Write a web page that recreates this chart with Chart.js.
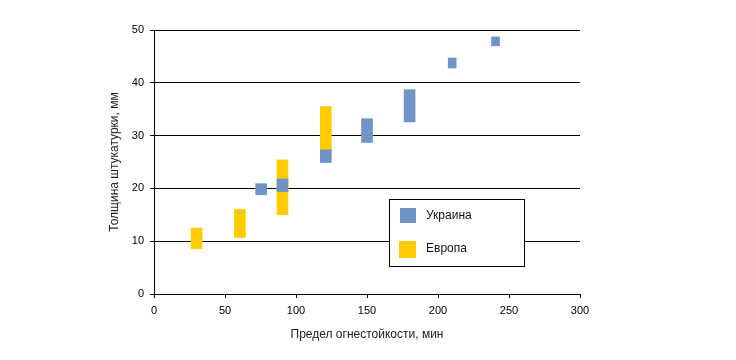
<!DOCTYPE html>
<html>
<head>
<meta charset="utf-8">
<style>
  html, body { margin: 0; padding: 0; background: #ffffff; }
  #wrap { width: 736px; height: 360px; }
</style>
<script src="https://cdn.jsdelivr.net/npm/chart.js@4.4.1/dist/chart.umd.min.js"></script>
</head>
<body>
<div id="wrap"><canvas id="c" width="736" height="360"></canvas></div>
<script>
// Data
const seriesNames = ["Украина", "Европа"];
const ukraineMinutes = [75.5, 90.5, 121, 150, 180, 210, 240.5];
const ukraineLow  = [18.8, 19.4, 24.9, 28.7, 32.6, 42.8, 47.0];
const ukraineHigh = [20.9, 21.8, 27.3, 33.2, 38.7, 44.7, 48.7];
const europeMinutes = [30, 60.5, 90.5, 121];
const europeLow  = [8.6, 10.7, 15.0, 27.0];
const europeHigh = [12.5, 16.0, 25.4, 35.5];
const xTicks = [0, 50, 100, 150, 200, 250, 300];
const yTicks = [0, 10, 20, 30, 40, 50];
const xTitle = "Предел огнестойкости, мин";
const yTitle = "Толщина штукатурки, мм";

const BLUE = "#7094C6";
const YELLOW = "#FFCC00";
const FONT = "'Liberation Sans', Arial, sans-serif";

function ranges(xs, lo, hi) {
  return xs.map((x, i) => ({ x: x, y: [lo[i], hi[i]] }));
}
const ukrAll = ranges(ukraineMinutes, ukraineLow, ukraineHigh);
const ukrWide = ukrAll.filter(p => p.x < 200);
const ukrNarrow = ukrAll.filter(p => p.x >= 200);

const insideLegend = {
  id: 'insideLegend',
  afterDraw(chart) {
    const ctx = chart.ctx;
    const a = chart.chartArea;
    const L = a.left + 235, T = a.top + 169, W = 135, H = 67;
    ctx.save();
    ctx.fillStyle = "#ffffff";
    ctx.fillRect(L, T, W, H);
    ctx.strokeStyle = "#000000";
    ctx.lineWidth = 1;
    ctx.strokeRect(L + 0.5, T + 0.5, W, H);
    const items = [
      { name: seriesNames[0], color: BLUE, sy: T + 9, sh: 15, sx: L + 11, sw: 16, ty: T + 17 },
      { name: seriesNames[1], color: YELLOW, sy: T + 42, sh: 17, sx: L + 10, sw: 17, ty: T + 50 }
    ];
    ctx.font = "12px " + FONT;
    ctx.textBaseline = "middle";
    ctx.textAlign = "left";
    items.forEach(it => {
      ctx.fillStyle = it.color;
      ctx.fillRect(it.sx, it.sy, it.sw, it.sh);
      ctx.fillStyle = "#111111";
      ctx.fillText(it.name, L + 37, it.ty);
    });
    ctx.restore();
  }
};

const bgPlugin = {
  id: 'bg',
  beforeDraw(chart) {
    const ctx = chart.ctx;
    ctx.save();
    ctx.fillStyle = "#ffffff";
    ctx.fillRect(0, 0, chart.width, chart.height);
    ctx.restore();
  }
};

new Chart(document.getElementById('c'), {
  type: 'bar',
  data: {
    datasets: [
      { label: seriesNames[0], data: ukrWide, backgroundColor: BLUE, barThickness: 11, borderWidth: 0 },
      { label: seriesNames[0], data: ukrNarrow, backgroundColor: BLUE, barThickness: 8, borderWidth: 0 },
      { label: seriesNames[1], data: ranges(europeMinutes, europeLow, europeHigh), backgroundColor: YELLOW, barThickness: 11, borderWidth: 0 }
    ]
  },
  options: {
    responsive: false,
    animation: false,
    grouped: false,
    layout: { padding: { left: 103, right: 156, top: 30, bottom: 14 } },
    plugins: {
      legend: { display: false },
      tooltip: { enabled: false }
    },
    scales: {
      x: {
        type: 'linear',
        min: 0, max: 300,
        offset: false,
        afterFit(s) { s.height = 52; },
        afterBuildTicks(s) { s.ticks = xTicks.map(v => ({ value: v })); },
        grid: { drawOnChartArea: false, drawTicks: true, tickLength: 4, color: "#000000", tickColor: "#000000", offset: false },
        border: { display: true, color: "#000000", width: 1 },
        ticks: { padding: 6, color: "#000000", font: { family: FONT, size: 11 }, maxRotation: 0 },
        title: { display: true, text: xTitle, color: "#222222", font: { family: FONT, size: 12 }, padding: { top: 4, bottom: 4 } }
      },
      y: {
        min: 0, max: 50,
        afterFit(s) { s.width = 51; },
        afterBuildTicks(s) { s.ticks = yTicks.map(v => ({ value: v })); },
        grid: { drawOnChartArea: true, drawTicks: true, tickLength: 4, color: "#000000", tickColor: "#000000" },
        border: { display: true, color: "#000000", width: 1 },
        ticks: { padding: 6, color: "#000000", font: { family: FONT, size: 11 } },
        title: { display: true, text: yTitle, color: "#222222", font: { family: FONT, size: 12 }, padding: { top: 4, bottom: 4 } }
      }
    }
  },
  plugins: [bgPlugin, insideLegend]
});
</script>
</body>
</html>
